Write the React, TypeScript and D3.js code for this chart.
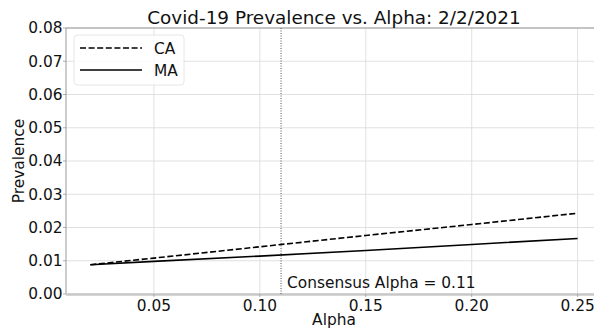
import React, { useEffect, useRef } from 'react';
import * as d3 from 'd3';

const alphas = [0.02, 0.05, 0.1, 0.15, 0.2, 0.25];
const caValues = [0.0088, 0.0108, 0.0142, 0.0176, 0.0209, 0.0243];
const maValues = [0.0088, 0.0098, 0.0114, 0.0131, 0.0149, 0.0167];
const xTicks = [0.05, 0.1, 0.15, 0.2, 0.25];
const yTicks = [0, 0.01, 0.02, 0.03, 0.04, 0.05, 0.06, 0.07, 0.08];
const consensusAlpha = 0.11;

const App = () => {
  const ref = useRef<SVGSVGElement>(null);

  useEffect(() => {
    const svg = d3.select(ref.current);
    svg.selectAll('*').remove();

    const height = 331;
    const margin = { top: 28, left: 66, bottom: 37 };
    const font = 'DejaVu Sans, sans-serif';
    const fs = 15.4;

    const x = d3.scaleLinear().domain([0.0085, 0.2615]).range([margin.left, 602]);
    const y = d3.scaleLinear().domain([0, 0.08]).range([height - margin.bottom, margin.top]);

    const g = svg.append('g');

    // Grid
    g.selectAll('line.gx')
      .data(xTicks)
      .enter()
      .append('line')
      .attr('x1', d => x(d)).attr('x2', d => x(d))
      .attr('y1', y(0)).attr('y2', y(0.08))
      .attr('stroke', '#d9d9d9').attr('stroke-width', 0.8);
    g.selectAll('line.gy')
      .data(yTicks)
      .enter()
      .append('line')
      .attr('x1', x.range()[0]).attr('x2', x.range()[1])
      .attr('y1', d => y(d)).attr('y2', d => y(d))
      .attr('stroke', '#d9d9d9').attr('stroke-width', 0.8);

    // Spines
    g.append('line').attr('x1', x.range()[0]).attr('x2', x.range()[1])
      .attr('y1', y(0.08)).attr('y2', y(0.08)).attr('stroke', '#999').attr('stroke-width', 1);
    g.append('line').attr('x1', x.range()[0]).attr('x2', x.range()[0])
      .attr('y1', y(0)).attr('y2', y(0.08)).attr('stroke', '#999').attr('stroke-width', 1);
    g.append('line').attr('x1', x.range()[0]).attr('x2', x.range()[1])
      .attr('y1', y(0) + 0.5).attr('y2', y(0) + 0.5).attr('stroke', '#c8c8c8').attr('stroke-width', 2.5);

    // Ticks
    g.selectAll('line.ty')
      .data(yTicks)
      .enter()
      .append('line')
      .attr('x1', x.range()[0] - 3).attr('x2', x.range()[0])
      .attr('y1', d => y(d)).attr('y2', d => y(d))
      .attr('stroke', '#999').attr('stroke-width', 0.8);
    g.selectAll('text.ty')
      .data(yTicks)
      .enter()
      .append('text')
      .attr('x', x.range()[0] - 3.5)
      .attr('y', d => y(d) + 5.4)
      .attr('text-anchor', 'end')
      .attr('font-family', font)
      .attr('font-size', fs)
      .attr('fill', '#111')
      .text(d => d3.format('.2f')(d));
    g.selectAll('line.tx')
      .data(xTicks)
      .enter()
      .append('line')
      .attr('x1', d => x(d)).attr('x2', d => x(d))
      .attr('y1', y(0)).attr('y2', y(0) + 3)
      .attr('stroke', '#999').attr('stroke-width', 0.8);
    g.selectAll('text.tx')
      .data(xTicks)
      .enter()
      .append('text')
      .attr('x', d => x(d))
      .attr('y', y(0) + 16.5)
      .attr('text-anchor', 'middle')
      .attr('font-family', font)
      .attr('font-size', fs)
      .attr('fill', '#111')
      .text(d => d3.format('.2f')(d));

    // Consensus line
    g.append('line')
      .attr('x1', x(consensusAlpha)).attr('x2', x(consensusAlpha))
      .attr('y1', y(0)).attr('y2', y(0.08))
      .attr('stroke', '#555').attr('stroke-width', 1)
      .attr('stroke-dasharray', '1,1.5');
    g.append('text')
      .attr('x', x(consensusAlpha) + 6)
      .attr('y', y(0) - 6)
      .attr('font-family', font)
      .attr('font-size', fs)
      .attr('fill', '#111')
      .text(`Consensus Alpha = ${consensusAlpha}`);

    // Lines
    const line = d3.line<number>()
      .x((_, i) => x(alphas[i]))
      .y(d => y(d));
    g.append('path').datum(caValues)
      .attr('fill', 'none').attr('stroke', '#000').attr('stroke-width', 1.6)
      .attr('stroke-dasharray', '6,2.6').attr('d', line);
    g.append('path').datum(maValues)
      .attr('fill', 'none').attr('stroke', '#000').attr('stroke-width', 1.6)
      .attr('d', line);

    // Legend
    const lg = g.append('g').attr('transform', 'translate(74,35)');
    lg.append('rect').attr('width', 110).attr('height', 50).attr('rx', 3)
      .attr('fill', 'white').attr('fill-opacity', 0.8)
      .attr('stroke', '#e0e0e0').attr('stroke-width', 0.8);
    const items = [{ name: 'CA', dash: '6,2.6' }, { name: 'MA', dash: null }];
    items.forEach((it, i) => {
      const cy = 13 + i * 22;
      lg.append('line').attr('x1', 6).attr('x2', 68).attr('y1', cy).attr('y2', cy)
        .attr('stroke', '#000').attr('stroke-width', 1.6)
        .attr('stroke-dasharray', it.dash);
      lg.append('text').attr('x', 80).attr('y', cy + 5.5)
        .attr('font-family', font).attr('font-size', fs).attr('fill', '#111')
        .text(it.name);
    });

    // Title and labels
    svg.append('text')
      .attr('x', 334).attr('y', 24)
      .attr('text-anchor', 'middle')
      .attr('font-family', font)
      .attr('font-size', 18.4)
      .attr('fill', '#111')
      .text('Covid-19 Prevalence vs. Alpha: 2/2/2021');
    svg.append('text')
      .attr('x', 334).attr('y', 325)
      .attr('text-anchor', 'middle')
      .attr('font-family', font)
      .attr('font-size', fs)
      .attr('fill', '#111')
      .text('Alpha');
    svg.append('text')
      .attr('transform', 'rotate(-90)')
      .attr('x', -y(0.04)).attr('y', 24)
      .attr('text-anchor', 'middle')
      .attr('font-family', font)
      .attr('font-size', fs)
      .attr('fill', '#111')
      .text('Prevalence');
  }, []);

  return (
    <svg
      ref={ref}
      width={594}
      height={331}
      style={{ position: 'absolute', left: 0, top: 0, background: 'white' }}
    />
  );
};

export default App;
